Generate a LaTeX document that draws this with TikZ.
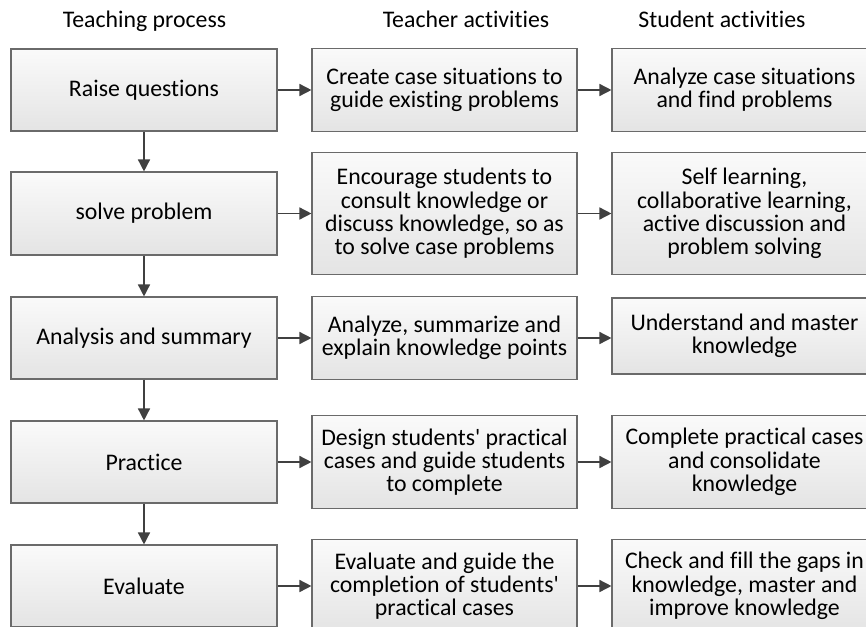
\documentclass[tikz,border=0pt]{standalone}
\usepackage{fontspec}
\newfontfamily\calfont{Carlito}[Ligatures={NoCommon}]
\usetikzlibrary{arrows.meta}
\definecolor{boxline}{HTML}{6A6A6A}
\definecolor{arrowcol}{HTML}{404040}
\definecolor{topfill}{HTML}{FAFAFA}
\definecolor{botfill}{HTML}{E4E4E4}
\begin{document}
\begin{tikzpicture}[x=1pt,y=-1pt,
  txt/.style={font=\calfont\fontsize{23.8pt}{23.3pt}\selectfont, text=black, align=center, inner sep=0pt},
  box/.style={txt, draw=boxline, line width=1.1pt, top color=topfill, bottom color=botfill},
  c1/.style={box, minimum width=266pt},
  c2/.style={box, minimum width=265pt},
  c3/.style={box, minimum width=265pt},
  arr/.style={draw=arrowcol, line width=1.5pt, -{Triangle[length=12pt,width=12pt]}}
]
\useasboundingbox (0,0) rectangle (866,626);

% headers
\node[txt, anchor=base] (h1) at (144.5,28) {Teaching process};
\node[txt, anchor=base] (h2) at (466,28) {Teacher activities};
\node[txt, anchor=base] (h3) at (722,28) {Student activities};

% column 1
\node[c1, minimum height=82pt] (a1) at (144,90) {Raise questions};
\node[c1, minimum height=83pt] (a2) at (144,213.5) {solve problem};
\node[c1, minimum height=82pt] (a3) at (144,338) {Analysis and summary};
\node[c1, minimum height=82pt] (a4) at (144,462) {Practice};
\node[c1, minimum height=82pt] (a5) at (144,586) {Evaluate};

% column 2
\node[c2, minimum height=83pt] (b1) at (444.5,90) {Create case situations to\\guide existing problems};
\node[c2, minimum height=122pt] (b2) at (444.5,213.5) {Encourage students to\\consult knowledge or\\discuss knowledge, so as\\to solve case problems};
\node[c2, minimum height=83pt] (b3) at (444.5,338) {Analyze, summarize and\\explain knowledge points};
\node[c2, minimum height=93pt] (b4) at (444.5,462) {Design students' practical\\cases and guide students\\to complete};
\node[c2, minimum height=93pt] (b5) at (444.5,586) {Evaluate and guide the\\completion of students'\\practical cases};

% column 3
\node[c3, minimum height=83pt] (s1) at (744.5,90) {Analyze case situations\\and find problems};
\node[c3, minimum height=122pt] (s2) at (744.5,213.5) {Self learning,\\collaborative learning,\\active discussion and\\problem solving};
\node[c3, minimum height=76pt] (s3) at (744.5,336) {Understand and master\\knowledge};
\node[c3, minimum height=93pt] (s4) at (744.5,462) {Complete practical cases\\and consolidate\\knowledge};
\node[c3, minimum height=93pt] (s5) at (744.5,586) {Check and fill the gaps in\\knowledge, master and\\improve knowledge};

% vertical arrows
\draw[arr] (a1) -- (a2);
\draw[arr] (a2) -- (a3);
\draw[arr] (a3) -- (a4);
\draw[arr] (a4) -- (a5);

% horizontal arrows
\foreach \i in {1,2,4,5}{
  \draw[arr] (a\i.east) -- (b\i.west);
  \draw[arr] (b\i.east) -- (s\i.west);
}
\draw[arr] (a3.east) -- (b3.west);
\draw[arr] (b3.east) -- (b3.east -| s3.west);
\end{tikzpicture}
\end{document}
